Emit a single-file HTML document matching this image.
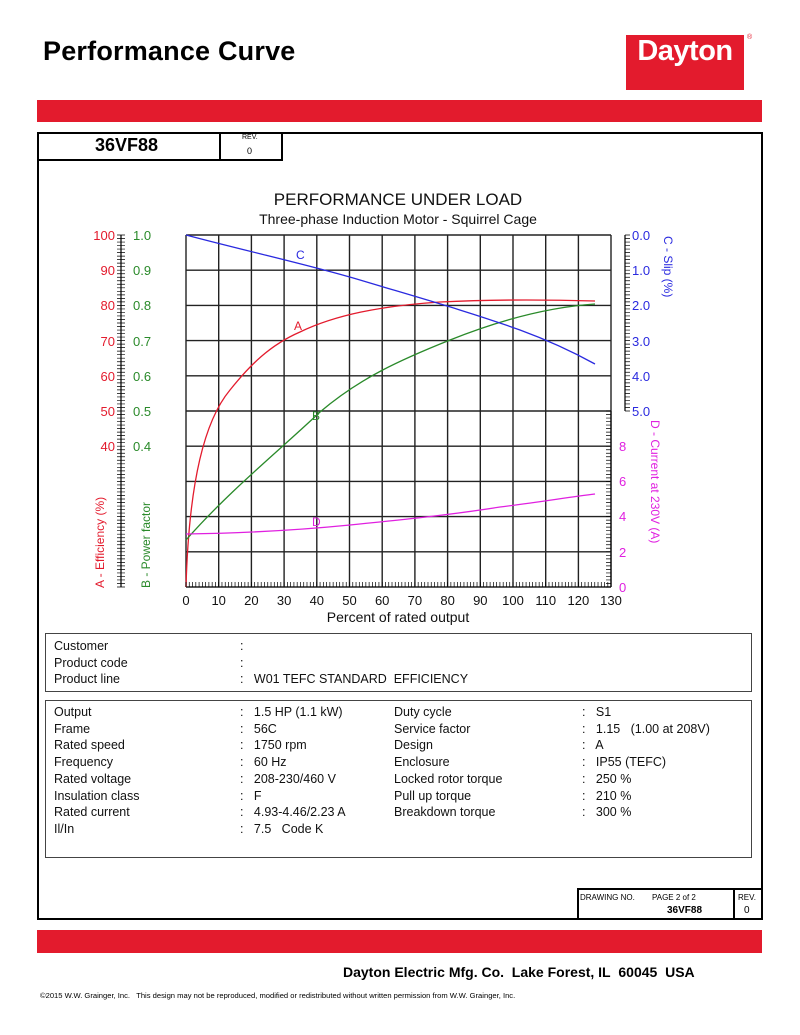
<!DOCTYPE html>
<html><head><meta charset="utf-8"><style>
body{margin:0;background:#fff;width:800px;height:1035px;position:relative;font-family:"Liberation Sans",Arial,sans-serif;overflow:hidden}
.a{position:absolute}
.t{font-size:12.5px;color:#111;line-height:16.7px}
</style></head><body>
<div class="a" style="left:43px;top:36px;font-size:27px;font-weight:bold;letter-spacing:0.2px">Performance Curve</div>
<div class="a" style="left:626px;top:35px;width:118px;height:55px;background:#e31b2d;color:#fff;font-weight:bold;font-size:29px;text-align:center;line-height:32px;letter-spacing:-0.5px">Dayton</div>
<div class="a" style="left:747px;top:34px;font-size:7px;color:#e31b2d">®</div>
<div class="a" style="left:37px;top:100px;width:725px;height:22px;background:#e31b2d"></div>
<div class="a" style="left:37px;top:132px;width:722px;height:784px;border:2px solid #000"></div>
<div class="a" style="left:37px;top:132px;width:242px;height:25px;border:2px solid #000"></div>
<div class="a" style="left:219px;top:132px;width:2px;height:27px;background:#000"></div>
<div class="a" style="left:95px;top:135px;font-size:18px;font-weight:bold">36VF88</div>
<div class="a" style="left:242px;top:134px;font-size:7px">REV.</div>
<div class="a" style="left:247px;top:146px;font-size:9px">0</div>
<svg class="a" style="left:0;top:0" width="800" height="640" font-family="Liberation Sans,Arial,sans-serif">
<text x="398" y="205" font-size="17" text-anchor="middle" fill="#111">PERFORMANCE UNDER LOAD</text>
<text x="398" y="224" font-size="14" text-anchor="middle" fill="#111">Three-phase Induction Motor - Squirrel Cage</text>
<g stroke="#222" stroke-width="1.4">
<path d="M186 235V587M218.7 235V587M251.4 235V587M284.1 235V587M316.8 235V587M349.5 235V587M382.2 235V587M414.9 235V587M447.6 235V587M480.3 235V587M513 235V587M545.7 235V587M578.4 235V587M611 235V587"/>
<path d="M186 235H611M186 270.2H611M186 305.4H611M186 340.6H611M186 375.8H611M186 411H611M186 446.2H611M186 481.4H611M186 516.6H611M186 551.8H611M186 587H611"/>
<path d="M121 235V587M625 235V411M611 411V587"/>
</g>
<g font-size="13" fill="#e31b2d" text-anchor="end">
<text x="115" y="240">100</text><text x="115" y="275">90</text><text x="115" y="310">80</text><text x="115" y="346">70</text><text x="115" y="381">60</text><text x="115" y="416">50</text><text x="115" y="451">40</text></g>
<g font-size="13" fill="#2a8a2a">
<text x="133" y="240">1.0</text><text x="133" y="275">0.9</text><text x="133" y="310">0.8</text><text x="133" y="346">0.7</text><text x="133" y="381">0.6</text><text x="133" y="416">0.5</text><text x="133" y="451">0.4</text></g>
<g font-size="13" fill="#2a2adf">
<text x="632" y="240">0.0</text><text x="632" y="275">1.0</text><text x="632" y="310">2.0</text><text x="632" y="346">3.0</text><text x="632" y="381">4.0</text><text x="632" y="416">5.0</text></g>
<g font-size="13" fill="#e020e0">
<text x="619" y="451">8</text><text x="619" y="486">6</text><text x="619" y="521">4</text><text x="619" y="557">2</text><text x="619" y="592">0</text></g>
<g font-size="13" fill="#111" text-anchor="middle">
<text x="186" y="605">0</text><text x="218.7" y="605">10</text><text x="251.4" y="605">20</text><text x="284.1" y="605">30</text><text x="316.8" y="605">40</text><text x="349.5" y="605">50</text><text x="382.2" y="605">60</text><text x="414.9" y="605">70</text><text x="447.6" y="605">80</text><text x="480.3" y="605">90</text><text x="513" y="605">100</text><text x="545.7" y="605">110</text><text x="578.4" y="605">120</text><text x="611" y="605">130</text>
<text x="398" y="622" font-size="14">Percent of rated output</text></g>
<text transform="translate(104,588) rotate(-90)" font-size="12" fill="#e31b2d">A - Efficiency (%)</text>
<text transform="translate(150,588) rotate(-90)" font-size="12" fill="#2a8a2a">B - Power factor</text>
<text transform="translate(664,236) rotate(90)" font-size="12" fill="#2a2adf">C - Slip (%)</text>
<text transform="translate(651,420) rotate(90)" font-size="12" fill="#e020e0">D - Current at 230V (A)</text>
<g fill="none" stroke-width="1.3">
<path stroke="#e31b2d" d="M186 587C189 480 205 420 230 390C250 365 270 345 300 332C335 315 380 306 440 302C500 299 560 300 595 301"/>
<path stroke="#2a8a2a" d="M186 540C230 490 280 450 320 412C360 378 400 360 450 340C500 320 550 307 595 304"/>
<path stroke="#2a2adf" d="M186 235C250 252 310 265 360 280C420 298 470 312 520 330C550 341 575 353 595 364"/>
<path stroke="#e020e0" d="M186 534C250 533 300 530 350 525C400 520 450 515 500 507C540 502 570 497 595 494"/>
</g>
<g font-size="12"><text x="296" y="259" fill="#2a2adf">C</text><text x="294" y="330" fill="#e31b2d">A</text><text x="312" y="420" fill="#2a8a2a">B</text><text x="312" y="526" fill="#e020e0">D</text></g>
<path id="ticks" stroke="#000" stroke-width="0.7" d=""/>
</svg>
<div class="a" style="left:45px;top:633px;width:705px;height:57px;border:1px solid #444"></div>
<div class="a t" style="left:54px;top:638px">Customer<br>Product code<br>Product line</div>
<div class="a t" style="left:240px;top:638px">:<br>:<br>:&nbsp;&nbsp; W01 TEFC STANDARD&nbsp; EFFICIENCY</div>
<div class="a" style="left:45px;top:700px;width:705px;height:156px;border:1px solid #444"></div>
<div class="a t" style="left:54px;top:704px">Output<br>Frame<br>Rated speed<br>Frequency<br>Rated voltage<br>Insulation class<br>Rated current<br>Il/In</div>
<div class="a t" style="left:240px;top:704px">:&nbsp;&nbsp; 1.5 HP (1.1 kW)<br>:&nbsp;&nbsp; 56C<br>:&nbsp;&nbsp; 1750 rpm<br>:&nbsp;&nbsp; 60 Hz<br>:&nbsp;&nbsp; 208-230/460 V<br>:&nbsp;&nbsp; F<br>:&nbsp;&nbsp; 4.93-4.46/2.23 A<br>:&nbsp;&nbsp; 7.5&nbsp;&nbsp; Code K</div>
<div class="a t" style="left:394px;top:704px">Duty cycle<br>Service factor<br>Design<br>Enclosure<br>Locked rotor torque<br>Pull up torque<br>Breakdown torque</div>
<div class="a t" style="left:582px;top:704px">:&nbsp;&nbsp; S1<br>:&nbsp;&nbsp; 1.15&nbsp;&nbsp; (1.00 at 208V)<br>:&nbsp;&nbsp; A<br>:&nbsp;&nbsp; IP55 (TEFC)<br>:&nbsp;&nbsp; 250 %<br>:&nbsp;&nbsp; 210 %<br>:&nbsp;&nbsp; 300 %</div>
<div class="a" style="left:577px;top:888px;width:183px;height:28px;border-top:2px solid #000;border-left:2px solid #000"></div>
<div class="a" style="left:733px;top:888px;width:2px;height:30px;background:#000"></div>
<div class="a" style="left:580px;top:893px;font-size:8px">DRAWING NO.</div>
<div class="a" style="left:652px;top:893px;font-size:8px">PAGE 2 of 2</div>
<div class="a" style="left:667px;top:905px;font-size:10px;font-weight:bold">36VF88</div>
<div class="a" style="left:738px;top:893px;font-size:8px">REV.</div>
<div class="a" style="left:744px;top:905px;font-size:10px">0</div>
<div class="a" style="left:37px;top:930px;width:725px;height:23px;background:#e31b2d"></div>
<div class="a" style="left:343px;top:964px;font-size:14px;font-weight:bold;white-space:nowrap">Dayton Electric Mfg. Co.&nbsp; Lake Forest, IL&nbsp; 60045&nbsp; USA</div>
<div class="a" style="left:40px;top:991px;font-size:7.6px;white-space:nowrap">©2015 W.W. Grainger, Inc.&nbsp;&nbsp; This design may not be reproduced, modified or redistributed without written permission from W.W. Grainger, Inc.</div>
<script>
var d="";for(var y=235;y<=587;y+=3.52){d+="M117 "+y+"H125";}
for(var y=235;y<=411;y+=3.52){d+="M625 "+y+"H630";}
for(var y=411;y<=587;y+=3.52){d+="M606 "+y+"H611";}
for(var x=186;x<=611;x+=3.27){d+="M"+x+" 582V587";}
document.getElementById("ticks").setAttribute("d",d);
</script>
</body></html>
